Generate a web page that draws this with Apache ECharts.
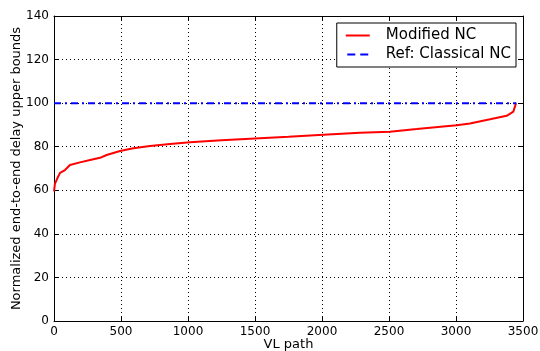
<!DOCTYPE html>
<html>
<head>
<meta charset="utf-8">
<script src="https://cdn.jsdelivr.net/npm/echarts@6/dist/echarts.min.js"></script>
<style>
  html, body { margin: 0; padding: 0; background: #fff; }
  #chart { width: 540px; height: 351px; }
</style>
</head>
<body>
<div id="chart"></div>
<script>
// values
const vlPath = [0, 7, 25, 45, 82, 119, 194, 269, 343, 393, 493, 592, 716, 866, 1015, 1250, 1500, 1750, 2010, 2284, 2507, 2707, 3005, 3104, 3254, 3378, 3428, 3448];
const modifiedNC = [59.5, 63, 65.5, 68, 69.3, 71.6, 72.8, 73.9, 74.9, 76.2, 78, 79.3, 80.3, 81.2, 82, 83, 83.8, 84.6, 85.5, 86.4, 86.9, 88.1, 89.9, 90.7, 92.6, 94.2, 96.1, 100];
const refPath = [0, 3450];
const classicalNC = [100, 100];
const xTicks = [0, 500, 1000, 1500, 2000, 2500, 3000, 3500];
const yTicks = [0, 20, 40, 60, 80, 100, 120, 140];

const font = "DejaVu Sans";
const chart = echarts.init(document.getElementById("chart"));

const gridLine = { show: true, lineStyle: { color: "#000", type: [1, 3], width: 1 } };
const tick = { show: true, inside: true, length: 4, lineStyle: { color: "#000" } };
const plain = v => String(v);

chart.setOption({
  animation: false,
  textStyle: { fontFamily: font },
  grid: { left: 54, right: 17, top: 16, bottom: 30, outerBoundsMode: "none", containLabel: false },
  legend: {
    right: 24,
    top: 23,
    orient: "vertical",
    backgroundColor: "#fff",
    borderColor: "#000",
    borderWidth: 1,
    borderRadius: 0,
    padding: [5, 5, 5, 9],
    itemGap: 4,
    itemWidth: 24,
    itemHeight: 2,
    textStyle: { fontFamily: font, fontSize: 15, color: "#000", padding: [0, 0, 0, 11] },
    data: [
      { name: "Modified NC", icon: "path://M0,0H24V2H0Z" },
      { name: "Ref: Classical NC", icon: "path://M0,0H8V2H0Z M13,0H21V2H13Z" },
    ],
  },
  xAxis: [
    {
      type: "value",
      min: 0,
      max: 3500,
      interval: 500,
      name: "VL path",
      nameLocation: "middle",
      nameGap: 17,
      nameMoveOverlap: false,
      nameTextStyle: { fontFamily: font, fontSize: 13, color: "#000" },
      axisLine: { show: true, onZero: false, lineStyle: { color: "#000", width: 1 } },
      axisTick: tick,
      axisLabel: { fontFamily: font, fontSize: 12, color: "#000", margin: 5, formatter: plain },
      splitLine: gridLine,
    },
    {
      type: "value",
      position: "top",
      min: 0,
      max: 3500,
      interval: 500,
      axisLine: { show: true, onZero: false, lineStyle: { color: "#000", width: 1 } },
      axisTick: tick,
      axisLabel: { show: false },
      splitLine: { show: false },
    },
  ],
  yAxis: [
    {
      type: "value",
      min: 0,
      max: 140,
      interval: 20,
      name: "Normalized end-to-end delay upper bounds",
      nameLocation: "middle",
      nameGap: 31,
      nameMoveOverlap: false,
      nameTextStyle: { fontFamily: font, fontSize: 13, color: "#000" },
      axisLine: { show: true, onZero: false, lineStyle: { color: "#000", width: 1 } },
      axisTick: tick,
      axisLabel: { fontFamily: font, fontSize: 12, color: "#000", margin: 5, formatter: plain },
      splitLine: gridLine,
    },
    {
      type: "value",
      position: "right",
      min: 0,
      max: 140,
      interval: 20,
      axisLine: { show: true, onZero: false, lineStyle: { color: "#000", width: 1 } },
      axisTick: tick,
      axisLabel: { show: false },
      splitLine: { show: false },
    },
  ],
  series: [
    {
      name: "Modified NC",
      type: "line",
      data: vlPath.map((x, i) => [x, modifiedNC[i]]),
      showSymbol: false,
      symbol: "none",
      color: "#ff0000",
      lineStyle: { color: "#ff0000", width: 2 },
      z: 3,
    },
    {
      name: "Ref: Classical NC",
      type: "line",
      data: refPath.map((x, i) => [x, classicalNC[i]]),
      showSymbol: false,
      symbol: "none",
      color: "#0000ff",
      lineStyle: { color: "#0000ff", width: 2, type: [7, 4, 2, 4] },
      z: 4,
    },
  ],
});
</script>
</body>
</html>
